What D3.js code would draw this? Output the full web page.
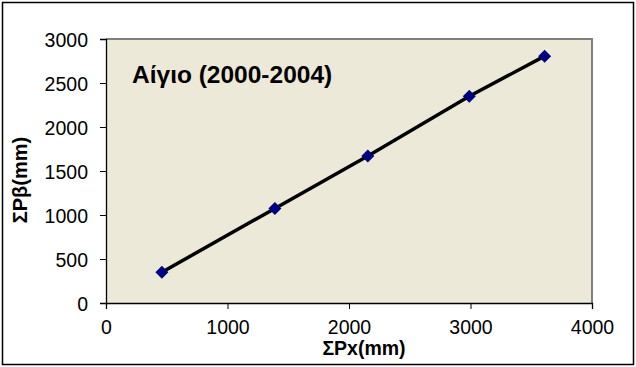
<!DOCTYPE html>
<html><head><meta charset="utf-8">
<script src="https://cdn.jsdelivr.net/npm/d3@7"></script>
<style>body{margin:0;background:#fff}svg{display:block}</style>
</head><body>
<svg id="c" width="636" height="367"></svg>
<script>
const sumPx = [460, 1390, 2155, 2990, 3610];
const sumPb = [350, 1075, 1670, 2350, 2805];
const xTicks = [0, 1000, 2000, 3000, 4000];
const yTicks = [0, 500, 1000, 1500, 2000, 2500, 3000];
const title = "Αίγιο (2000-2004)";
const xLabel = "ΣPx(mm)";
const yLabel = "ΣPβ(mm)";

const FONT = "Liberation Sans, Arial, sans-serif";
const svg = d3.select("#c");
const L = 106, R = 592, T = 39, B = 303;
const x = d3.scaleLinear().domain([0, 4000]).range([L, R]);
const y = d3.scaleLinear().domain([0, 3000]).range([B, T]);

svg.append("rect").attr("x", 2.5).attr("y", 2.5).attr("width", 631).attr("height", 362)
  .attr("fill", "#fff").attr("stroke", "#000").attr("stroke-width", 1.5);

svg.append("rect").attr("x", L).attr("y", T).attr("width", R - L).attr("height", B - T)
  .attr("fill", "#ECE9D8");
svg.append("path").attr("d", `M${L},${T}H${R}V${B}`).attr("fill", "none")
  .attr("stroke", "#808080").attr("stroke-width", 2);

const xa = svg.append("g").attr("transform", `translate(0,${B})`)
  .call(d3.axisBottom(x).tickValues(xTicks).tickSize(6).tickPadding(11).tickFormat(d3.format("d")));
const ya = svg.append("g").attr("transform", `translate(${L},0)`)
  .call(d3.axisLeft(y).tickValues(yTicks).tickSize(6).tickPadding(12).tickFormat(d3.format("d")));
[xa, ya].forEach(a => {
  a.select(".domain").attr("stroke", "#000").attr("stroke-width", 1.3);
  a.selectAll(".tick line").attr("stroke", "#000");
  a.selectAll("text").attr("font-family", FONT).attr("font-size", 19.5).attr("fill", "#000");
});
ya.selectAll("text").attr("dy", "0.36em");

const pts = sumPx.map((v, i) => [v, sumPb[i]]);
svg.append("path").datum(pts)
  .attr("d", d3.line().x(d => x(d[0])).y(d => y(d[1])))
  .attr("fill", "none").attr("stroke", "#000").attr("stroke-width", 3.5);
svg.selectAll(".pt").data(pts).enter().append("path")
  .attr("transform", d => `translate(${x(d[0])},${y(d[1])})`)
  .attr("d", "M0,-6.5L6.5,0L0,6.5L-6.5,0Z").attr("fill", "#000080");

svg.append("text").attr("x", 132).attr("y", 83).text(title)
  .attr("font-family", FONT).attr("font-size", 24.5).attr("font-weight", "bold").attr("fill", "#000");
svg.append("text").attr("x", 364).attr("y", 355).attr("text-anchor", "middle").text(xLabel)
  .attr("font-family", FONT).attr("font-size", 19.5).attr("font-weight", "bold").attr("fill", "#000");
svg.append("text").attr("transform", "translate(27,180) rotate(-90)").attr("text-anchor", "middle").text(yLabel)
  .attr("font-family", FONT).attr("font-size", 20).attr("font-weight", "bold").attr("fill", "#000");
</script>
</body></html>
